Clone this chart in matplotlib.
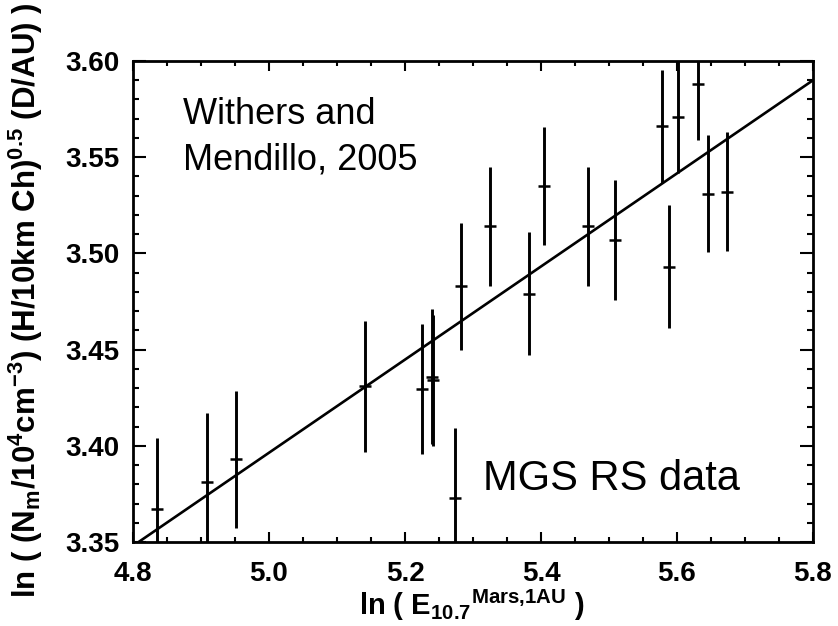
import matplotlib
matplotlib.use("Agg")
import matplotlib.pyplot as plt
from matplotlib.ticker import MultipleLocator, FormatStrFormatter

# ---- data ----
x_vals = [4.836, 4.909, 4.952, 5.141, 5.2245, 5.239, 5.241, 5.274, 5.282, 5.325,
          5.382, 5.404, 5.469, 5.509, 5.578, 5.588, 5.601, 5.631, 5.646, 5.674]
y_vals = [3.367, 3.381, 3.393, 3.431, 3.4295, 3.436, 3.434, 3.373, 3.483, 3.514,
          3.479, 3.535, 3.514, 3.507, 3.566, 3.493, 3.571, 3.588, 3.531, 3.532]
y_err = [0.037, 0.036, 0.0355, 0.034, 0.034, 0.035, 0.034, 0.036, 0.033, 0.031,
         0.032, 0.0305, 0.031, 0.031, 0.0295, 0.032, 0.029, 0.029, 0.0305, 0.031]
fit_x0, fit_y0, fit_slope = 4.8, 3.348, 0.242
x_ticks = [4.8, 5.0, 5.2, 5.4, 5.6, 5.8]
y_ticks = [3.35, 3.40, 3.45, 3.50, 3.55, 3.60]

plt.rcParams['font.family'] = ['Liberation Sans', 'DejaVu Sans']
plt.rcParams['mathtext.fontset'] = 'custom'
plt.rcParams['mathtext.rm'] = 'Liberation Sans:bold'
plt.rcParams['mathtext.it'] = 'Liberation Sans:bold'
plt.rcParams['mathtext.bf'] = 'Liberation Sans:bold'

W, H = 838, 626
fig = plt.figure(figsize=(W / 100, H / 100), dpi=100)
L, R, T, B = 133, 813, 61, 542
ax = fig.add_axes([L / W, 1 - B / H, (R - L) / W, (B - T) / H])

ax.errorbar(x_vals, y_vals, yerr=y_err, fmt='none', ecolor='black',
            elinewidth=2.1, capsize=0)
ax.plot(x_vals, y_vals, ls='none', marker='_', ms=9, mew=1.8, color='black')
ax.axline((fit_x0, fit_y0), slope=fit_slope, color='black', lw=1.9)

ax.set_xlim(4.8, 5.8)
ax.set_ylim(3.35, 3.60)
ax.set_xticks(x_ticks)
ax.set_yticks(y_ticks)
ax.xaxis.set_minor_locator(MultipleLocator(0.05))
ax.yaxis.set_minor_locator(MultipleLocator(0.01))
ax.xaxis.set_major_formatter(FormatStrFormatter('%.1f'))
ax.yaxis.set_major_formatter(FormatStrFormatter('%.2f'))
for s in ax.spines.values():
    s.set_linewidth(2.0)
ax.tick_params(axis='both', which='both', direction='in', top=True, right=True,
               width=1.5, labelsize=20)
ax.tick_params(axis='x', which='major', length=7, pad=14)
ax.tick_params(axis='x', which='minor', length=3.5)
ax.tick_params(axis='y', which='major', length=9.5, pad=10)
ax.tick_params(axis='y', which='minor', length=4.5)
for lab in ax.get_xticklabels() + ax.get_yticklabels():
    lab.set_fontweight('bold')

fig.text(472 / W, 1 - 615 / H, r'ln ( E$_{10.7}{}^{\rm Mars{,}1AU}$ )',
         ha='center', va='baseline', fontsize=21, fontweight='bold')
fig.text(26 / W, 1 - 300 / H,
         r'ln ( (N$_{\rm m}$/10$^{4}$cm$^{-3}$) (H/10km Ch)$^{0.5}$ (D/AU) )',
         ha='center', va='center', rotation=90, fontsize=22.5, fontweight='bold')

fig.text(183 / W, 1 - 124 / H, 'Withers and', fontsize=26, va='baseline')
fig.text(183 / W, 1 - 170 / H, 'Mendillo, 2005', fontsize=26, va='baseline')
fig.text(483 / W, 1 - 490 / H, 'MGS RS data', fontsize=30, va='baseline')

fig.savefig('out.png', dpi=100)
